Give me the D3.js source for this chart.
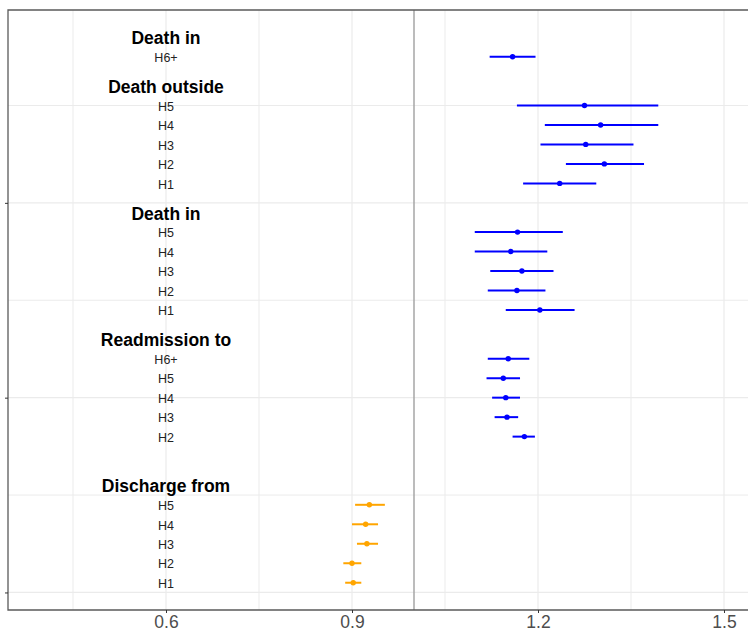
<!DOCTYPE html>
<html>
<head>
<meta charset="utf-8">
<script src="https://cdn.jsdelivr.net/npm/d3@7/dist/d3.min.js"></script>
<style>
  html, body { margin: 0; padding: 0; background: #fff; }
  svg { display: block; font-family: "Liberation Sans", Arial, sans-serif; }
</style>
</head>
<body>
<div id="chart"></div>
<script>
// Outcome groups, listed from the bottom of the plot upwards
const groupNames = ["Discharge from", "Readmission to", "Death in", "Death outside", "Death in"];
const groupLevels = [
  ["H1", "H2", "H3", "H4", "H5"],
  ["H1", "H2", "H3", "H4", "H5", "H6+"],
  ["H1", "H2", "H3", "H4", "H5"],
  ["H1", "H2", "H3", "H4", "H5"],
  ["H6+"]
];
// Ratio estimates and 95% confidence limits (null = not estimated)
const estimates = [
  [0.902, 0.900, 0.924, 0.922, 0.928],
  [null, 1.178, 1.150, 1.148, 1.144, 1.152],
  [1.203, 1.166, 1.174, 1.156, 1.167],
  [1.235, 1.307, 1.277, 1.301, 1.275],
  [1.159]
];
const lowerCI = [
  [0.889, 0.886, 0.908, 0.900, 0.905],
  [null, 1.159, 1.130, 1.126, 1.117, 1.119],
  [1.148, 1.119, 1.123, 1.098, 1.098],
  [1.176, 1.245, 1.204, 1.211, 1.166],
  [1.122]
];
const upperCI = [
  [0.915, 0.915, 0.942, 0.942, 0.953],
  [null, 1.195, 1.168, 1.171, 1.171, 1.186],
  [1.259, 1.212, 1.225, 1.215, 1.240],
  [1.294, 1.371, 1.354, 1.394, 1.394],
  [1.196]
];
const xTicks = [0.6, 0.9, 1.2, 1.5];
const xMinorTicks = [0.45, 0.75, 1.05, 1.35];
const yTicks = [0, 10, 20];
const yMinorTicks = [5, 15, 25];
const nullValue = 1;

// Row layout: one unit per row, header one unit above its rows, 1.5 units between groups
const rows = [];
const headers = [];
let pos = 0.5;
groupNames.forEach((g, gi) => {
  groupLevels[gi].forEach((lvl, li) => {
    rows.push({
      group: g, level: lvl, y: pos,
      est: estimates[gi][li], lo: lowerCI[gi][li], hi: upperCI[gi][li]
    });
    pos += 1;
  });
  headers.push({ name: g, y: pos });
  pos += 1.5;
});
const shown = rows.filter(d => d.est !== null);

const width = 748, height = 632;
const margin = { left: 8, top: 10, right: 0, bottom: 22 };

const x = d3.scaleLinear()
  .domain([0.34516, 1.53871])
  .range([margin.left, width - margin.right]);
const y = d3.scaleLinear()
  .domain([-0.9, 29.9])
  .range([height - margin.bottom, margin.top]);

const svg = d3.select("#chart").append("svg")
  .attr("width", width).attr("height", height);

const x0 = margin.left, x1 = width - margin.right;
const y0 = margin.top, y1 = height - margin.bottom;

// Grid
const grid = svg.append("g");
grid.selectAll(".vminor").data(xMinorTicks).join("line")
  .attr("x1", d => x(d)).attr("x2", d => x(d)).attr("y1", y0).attr("y2", y1)
  .attr("stroke", "#ebebeb").attr("stroke-width", 1);
grid.selectAll(".hminor").data(yMinorTicks).join("line")
  .attr("y1", d => y(d)).attr("y2", d => y(d)).attr("x1", x0).attr("x2", x1)
  .attr("stroke", "#ebebeb").attr("stroke-width", 1);
grid.selectAll(".vmajor").data(xTicks).join("line")
  .attr("x1", d => x(d)).attr("x2", d => x(d)).attr("y1", y0).attr("y2", y1)
  .attr("stroke", "#ebebeb").attr("stroke-width", 1.2);
grid.selectAll(".hmajor").data(yTicks).join("line")
  .attr("y1", d => y(d)).attr("y2", d => y(d)).attr("x1", x0).attr("x2", x1)
  .attr("stroke", "#ebebeb").attr("stroke-width", 1.2);

// Reference line at ratio = 1
svg.append("line")
  .attr("x1", x(nullValue)).attr("x2", x(nullValue))
  .attr("y1", y0).attr("y2", y1)
  .attr("stroke", "#a6a6a6").attr("stroke-width", 1.5);

// Confidence intervals and point estimates
const colorOf = d => d.est < nullValue ? "#ffa500" : "#0000ff";
svg.append("g").selectAll("line").data(shown).join("line")
  .attr("x1", d => x(d.lo)).attr("x2", d => x(d.hi))
  .attr("y1", d => y(d.y)).attr("y2", d => y(d.y))
  .attr("stroke", colorOf).attr("stroke-width", 2);
svg.append("g").selectAll("circle").data(shown).join("circle")
  .attr("cx", d => x(d.est)).attr("cy", d => y(d.y)).attr("r", 2.7)
  .attr("fill", colorOf);

// Row labels and group headers placed at x = 0.6
const labelX = x(0.6);
svg.append("g").selectAll("text").data(shown).join("text")
  .attr("x", labelX).attr("y", d => y(d.y)).attr("dy", "0.42em")
  .attr("text-anchor", "middle")
  .attr("font-size", "12.5px").attr("fill", "#222")
  .text(d => d.level);
svg.append("g").selectAll("text").data(headers).join("text")
  .attr("x", labelX).attr("y", d => y(d.y)).attr("dy", "0.40em")
  .attr("text-anchor", "middle")
  .attr("font-size", "17.5px").attr("font-weight", "bold").attr("fill", "#000")
  .text(d => d.name);

// Panel border (top / left / bottom)
svg.append("path")
  .attr("d", `M${x1 + 2},${y0}H${x0}V${y1}H${x1 + 2}`)
  .attr("fill", "none").attr("stroke", "#5a5a5a").attr("stroke-width", 1.3);

// Axes
const xAxis = svg.append("g").attr("transform", `translate(0,${y1})`)
  .call(d3.axisBottom(x).tickValues(xTicks).tickSize(3).tickPadding(3).tickFormat(d3.format(".1f")));
xAxis.select(".domain").remove();
xAxis.selectAll(".tick line").attr("stroke", "#333");
xAxis.selectAll(".tick text").attr("font-size", "17.5px").attr("fill", "#4d4d4d")
  .attr("font-family", "'Liberation Sans', Arial, sans-serif");

const yAxis = svg.append("g").attr("transform", `translate(${x0},0)`)
  .call(d3.axisLeft(y).tickValues(yTicks).tickSize(3).tickFormat(""));
yAxis.select(".domain").remove();
yAxis.selectAll(".tick line").attr("stroke", "#333");
</script>
</body>
</html>
